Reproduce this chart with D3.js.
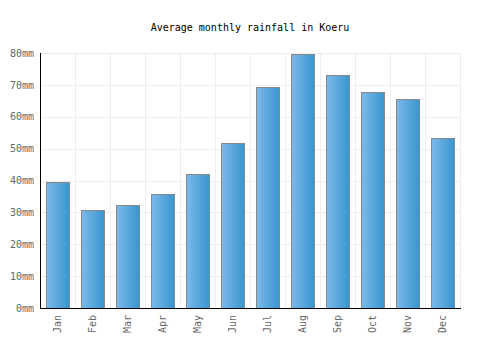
<!DOCTYPE html>
<html>
<head>
<meta charset="utf-8">
<script src="https://cdn.jsdelivr.net/npm/d3@7"></script>
<style>
  body { margin: 0; background: #fff; }
  text { font-family: "DejaVu Sans Mono", monospace; }
</style>
</head>
<body>
<div id="chart"></div>
<script>
const months = ["Jan", "Feb", "Mar", "Apr", "May", "Jun", "Jul", "Aug", "Sep", "Oct", "Nov", "Dec"];
const rainfall = [39.4, 30.6, 32.2, 35.7, 41.9, 51.7, 69.2, 79.6, 73.0, 67.7, 65.5, 53.2];
const yTicks = [0, 10, 20, 30, 40, 50, 60, 70, 80];

const width = 500, height = 350;
const margin = {top: 53, right: 40, bottom: 42, left: 40};
const w = width - margin.left - margin.right;
const h = height - margin.top - margin.bottom;

const svg = d3.select("#chart").append("svg")
    .attr("width", width)
    .attr("height", height);

// gradient for bars
const grad = svg.append("defs").append("linearGradient")
    .attr("id", "barGrad")
    .attr("x1", "0%").attr("x2", "100%")
    .attr("y1", "0%").attr("y2", "0%");
grad.append("stop").attr("offset", "0%").attr("stop-color", "#7db9ea");
grad.append("stop").attr("offset", "100%").attr("stop-color", "#3796cf");

svg.append("text")
    .attr("x", width / 2)
    .attr("y", 31)
    .attr("text-anchor", "middle")
    .attr("font-size", 10)
    .attr("fill", "#000")
    .text("Average monthly rainfall in Koeru");

const g = svg.append("g")
    .attr("transform", `translate(${margin.left},${margin.top})`);

const x = d3.scaleBand()
    .domain(months)
    .range([0, w])
    .paddingInner(0.34)
    .paddingOuter(0.17);

const y = d3.scaleLinear()
    .domain([0, 80])
    .range([h, 0]);

// grid
const step = w / months.length;
g.append("g").selectAll("line")
    .data(d3.range(months.length + 1))
    .join("line")
    .attr("x1", d => Math.round(d * step) + 0.5)
    .attr("x2", d => Math.round(d * step) + 0.5)
    .attr("y1", 0)
    .attr("y2", h)
    .attr("stroke", "#eeeeee");

g.append("g").selectAll("line")
    .data(yTicks)
    .join("line")
    .attr("x1", 0)
    .attr("x2", w)
    .attr("y1", d => Math.round(y(d)) + 0.5)
    .attr("y2", d => Math.round(y(d)) + 0.5)
    .attr("stroke", "#eeeeee");

// bars
g.selectAll(".bar")
    .data(rainfall)
    .join("rect")
    .attr("class", "bar")
    .attr("x", (d, i) => Math.round(x(months[i])) + 0.5)
    .attr("y", d => Math.round(y(d)) + 0.5)
    .attr("width", Math.round(x.bandwidth()))
    .attr("height", d => h - Math.round(y(d)))
    .attr("fill", "url(#barGrad)")
    .attr("stroke", "#888888")
    .attr("stroke-width", 1);

// axes
const yAxis = d3.axisLeft(y)
    .tickValues(yTicks)
    .tickSize(0)
    .tickPadding(6)
    .tickFormat(d => d + "mm");

const yG = g.append("g").call(yAxis);
yG.select(".domain").remove();
yG.selectAll("text").attr("font-size", 10).attr("fill", "#666")
    .style("font-family", "'DejaVu Sans Mono', monospace");

const xAxis = d3.axisBottom(x).tickSize(0).tickPadding(0);
const xG = g.append("g")
    .attr("transform", `translate(0,${h})`)
    .call(xAxis);
xG.select(".domain").remove();
xG.selectAll("text")
    .attr("font-size", 10)
    .attr("fill", "#666")
    .style("font-family", "'DejaVu Sans Mono', monospace")
    .attr("text-anchor", "end")
    .attr("dy", "0.35em")
    .attr("transform", "translate(0,7) rotate(-90)")
    .attr("x", 0)
    .attr("y", 0);

// axis lines
g.append("line")
    .attr("x1", 0.5).attr("x2", 0.5)
    .attr("y1", 0).attr("y2", h)
    .attr("stroke", "#000");
g.append("line")
    .attr("x1", 0).attr("x2", w + 1)
    .attr("y1", h + 0.5).attr("y2", h + 0.5)
    .attr("stroke", "#000");
</script>
</body>
</html>
